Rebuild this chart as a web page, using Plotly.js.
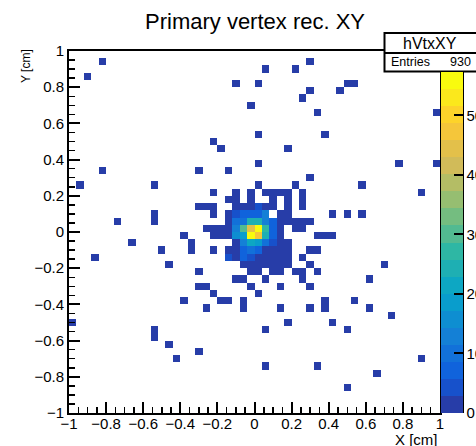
<!DOCTYPE html>
<html>
<head>
<meta charset="utf-8">
<script src="https://cdn.plot.ly/plotly-3.0.1.min.js"></script>
<style>
  html, body { margin: 0; padding: 0; background: #fff; overflow: hidden; }
  #chart { width: 476px; height: 446px; }
</style>
</head>
<body>
<div id="chart"></div>
<script>
// ---- histogram data: hVtxXY, 50 x 50 bins over [-1, 1] cm in X and Y ----
// Each row is one Y bin (bin centre in cm); rowX holds the X bin centres of
// the filled cells in that row and rowN their contents.
const rowY = [
  0.94, 0.90, 0.86, 0.82, 0.78, 0.74, 0.70, 0.66, 0.54, 0.50, 0.46, 0.38,
  0.34, 0.30, 0.26, 0.22, 0.18, 0.14, 0.10, 0.06, 0.02, -0.02, -0.06, -0.10,
  -0.14, -0.18, -0.22, -0.26, -0.30, -0.34, -0.38, -0.42, -0.46, -0.50,
  -0.54, -0.58, -0.62, -0.66, -0.70, -0.74, -0.78, -0.86
];
const rowX = [
  [-0.82, 0.30],
  [0.06, 0.22],
  [-0.90],
  [-0.10, 0.02, 0.50, 0.54],
  [0.30, 0.46],
  [0.26],
  [-0.02],
  [0.34, 0.98],
  [0.02, 0.38],
  [-0.22],
  [-0.18, 0.18],
  [0.02, 0.78, 0.98],
  [-0.82, -0.30, -0.14],
  [0.30],
  [-0.94, -0.54, 0.02, 0.22, 0.58],
  [-0.22, -0.10, -0.02, 0.06, 0.10, 0.14, 0.18, 0.26, 0.90],
  [-0.14, -0.10, -0.02, 0.10, 0.18, 0.26],
  [-0.30, -0.26, -0.22, -0.10, -0.06, -0.02, 0.02, 0.06, 0.10, 0.18, 0.26],
  [-0.54, -0.22, -0.14, -0.10, -0.06, -0.02, 0.02, 0.06, 0.14, 0.18, 0.42, 0.50, 0.58],
  [-0.74, -0.54, -0.14, -0.10, -0.06, -0.02, 0.02, 0.06, 0.10, 0.14, 0.18, 0.22, 0.26, 0.30],
  [-0.26, -0.22, -0.18, -0.14, -0.10, -0.06, -0.02, 0.02, 0.06, 0.10, 0.14, 0.22, 0.26],
  [-0.38, -0.22, -0.18, -0.14, -0.10, -0.06, -0.02, 0.02, 0.06, 0.10, 0.14, 0.34, 0.38, 0.42],
  [-0.66, -0.34, -0.10, -0.06, -0.02, 0.02, 0.06, 0.10, 0.14, 0.18],
  [-0.50, -0.34, -0.22, -0.14, -0.10, -0.06, -0.02, 0.02, 0.06, 0.10, 0.14, 0.18, 0.30, 0.34],
  [-0.86, -0.14, -0.10, -0.06, -0.02, 0.02, 0.06, 0.10, 0.14, 0.18, 0.26],
  [-0.46, -0.06, -0.02, 0.02, 0.06, 0.10, 0.14, 0.18, 0.30, 0.70],
  [-0.30, -0.02, 0.02, 0.10, 0.14, 0.22, 0.26, 0.34],
  [-0.10, -0.06, 0.06, 0.26, 0.62],
  [-0.30, -0.26, -0.02, 0.14, 0.30],
  [-0.22, 0.02],
  [-0.38, -0.18, -0.14, -0.06, 0.38, 0.54],
  [-0.26, -0.06, 0.14, 0.30, 0.38, 0.62],
  [0.74],
  [-0.98, 0.18, 0.42],
  [-0.54, 0.06, 0.50],
  [-0.54],
  [-0.46],
  [-0.30],
  [-0.42, 0.90],
  [0.06, 0.34],
  [0.66],
  [0.50]
];
const rowN = [
  [1, 1],
  [1, 1],
  [1],
  [1, 1, 1, 1],
  [1, 1],
  [1],
  [1],
  [1, 1],
  [1, 1],
  [1],
  [1, 1],
  [1, 1, 1],
  [1, 1, 1],
  [1],
  [1, 1, 1, 1, 1],
  [1, 1, 1, 1, 1, 1, 1, 1, 1],
  [1, 1, 1, 1, 1, 1],
  [1, 1, 1, 1, 2, 2, 4, 2, 1, 1, 1],
  [1, 1, 2, 4, 7, 8, 7, 12, 2, 1, 1, 1, 1],
  [1, 1, 2, 10, 9, 24, 24, 13, 6, 2, 2, 1, 1, 1],
  [1, 2, 2, 2, 12, 30, 44, 57, 27, 6, 2, 1, 1],
  [1, 1, 2, 2, 15, 20, 56, 47, 24, 8, 2, 1, 1, 1],
  [1, 1, 2, 13, 22, 18, 9, 3, 2, 1],
  [1, 1, 1, 2, 2, 6, 10, 6, 2, 2, 1, 1, 1, 1],
  [1, 5, 2, 6, 4, 2, 2, 1, 1, 1, 1],
  [1, 1, 2, 2, 2, 1, 1, 1, 1, 1],
  [1, 1, 1, 1, 1, 1, 1, 1],
  [1, 1, 1, 1, 1],
  [1, 1, 1, 1, 1],
  [1, 1],
  [1, 1, 1, 1, 1, 1],
  [1, 1, 1, 1, 1, 1],
  [1],
  [1, 1, 1],
  [1, 1, 1],
  [1],
  [1],
  [1],
  [1, 1],
  [1, 1],
  [1],
  [1]
];
const entries = 930;
const zMax = 57.3;

// axis tick labels
const axisTickVals = [-1, -0.8, -0.6, -0.4, -0.2, 0, 0.2, 0.4, 0.6, 0.8, 1];
const axisTickText = ['\u22121', '\u22120.8', '\u22120.6', '\u22120.4', '\u22120.2', '0',
                      '0.2', '0.4', '0.6', '0.8', '1'];
const zTickVals = [0, 10, 20, 30, 40, 50];

// ---- binning ----
const nBins = 50, lo = -1, binW = 0.04;
const centres = Array.from({ length: nBins }, (_, k) => +(lo + binW * (k + 0.5)).toFixed(2));
const z = Array.from({ length: nBins }, () => Array(nBins).fill(null));
rowY.forEach((y, r) => {
  const iy = Math.round((y - lo) / binW - 0.5);
  rowX[r].forEach((x, c) => {
    const ix = Math.round((x - lo) / binW - 0.5);
    z[iy][ix] = (z[iy][ix] || 0) + rowN[r][c];
  });
});

// ---- "bird" palette, 20 contour levels ----
const stops = [0, 0.125, 0.25, 0.375, 0.5, 0.625, 0.75, 0.875, 1];
const pr = [0.2082, 0.0592, 0.0780, 0.0232, 0.1802, 0.5301, 0.8186, 0.9956, 0.9764];
const pg = [0.1664, 0.3599, 0.5041, 0.6419, 0.7178, 0.7492, 0.7328, 0.7862, 0.9832];
const pb = [0.5293, 0.8684, 0.8385, 0.7914, 0.6425, 0.4662, 0.3499, 0.1968, 0.0539];
function bird(f) {
  let s = 0;
  while (s < stops.length - 2 && f > stops[s + 1]) s++;
  const t = (f - stops[s]) / (stops[s + 1] - stops[s]);
  const c = arr => Math.round(255 * (arr[s] + (arr[s + 1] - arr[s]) * t));
  return `rgb(${c(pr)},${c(pg)},${c(pb)})`;
}
const nLevels = 20;
const colorscale = [];
for (let k = 0; k < nLevels; k++) {
  const idx = Math.floor((k + 0.99) * 255 / nLevels);
  const col = bird(Math.min(idx / 254, 1));
  colorscale.push([k / nLevels, col], [(k + 1) / nLevels, col]);
}

// ---- frame geometry (pixels) ----
const W = 476, H = 446;
const fL = 69, fR = 440, fT = 51, fB = 413;
const px = v => (v - fL) / (fR - fL);
const py = v => (fB - v) / (fB - fT);
const FONT = 'Liberation Sans, Arial, Helvetica, sans-serif';

const trace = {
  type: 'heatmap',
  x: centres,
  y: centres,
  z: z,
  zmin: 0,
  zmax: zMax,
  colorscale: colorscale,
  hoverinfo: 'skip',
  colorbar: {
    thicknessmode: 'pixels', thickness: 22,
    lenmode: 'fraction', len: py(72),
    x: px(441), xanchor: 'left', xpad: 0,
    y: 0, yanchor: 'bottom', ypad: 0,
    outlinewidth: 0,
    tickmode: 'array', tickvals: zTickVals,
    ticks: 'inside', ticklen: 9, tickwidth: 2, tickcolor: '#000',
    tickfont: { family: FONT, size: 15, color: '#000' }
  }
};

const axisCommon = {
  range: [-1, 1],
  tickmode: 'array',
  tickvals: axisTickVals,
  ticktext: axisTickText,
  ticks: 'inside', ticklen: 11, tickwidth: 2, tickcolor: '#000',
  minor: { dtick: 0.05, tick0: -1, ticks: 'inside', ticklen: 6, tickwidth: 1.5, tickcolor: '#000', showgrid: false },
  showline: true, linecolor: '#000', linewidth: 2, mirror: true,
  showgrid: false, zeroline: false,
  tickfont: { family: FONT, size: 15, color: '#000' },
  fixedrange: true
};

const layout = {
  width: W, height: H,
  margin: { l: fL, r: W - fR, t: fT, b: H - fB, autoexpand: false },
  paper_bgcolor: '#fff', plot_bgcolor: '#fff',
  xaxis: Object.assign({}, axisCommon, { ticklabelstandoff: -4 }),
  yaxis: Object.assign({}, axisCommon),
  showlegend: false,
  shapes: [
    // right-hand edge of the palette
    { type: 'line', xref: 'paper', yref: 'paper', x0: px(463), x1: px(463), y0: 0, y1: py(72),
      line: { color: '#000', width: 2 } },
    // statistics box
    { type: 'rect', xref: 'paper', yref: 'paper', layer: 'above',
      x0: px(384.5), x1: px(482), y0: py(71.5), y1: py(33),
      fillcolor: '#fff', line: { color: '#000', width: 2 } },
    { type: 'line', xref: 'paper', yref: 'paper', layer: 'above',
      x0: px(384.5), x1: px(482), y0: py(53), y1: py(53),
      line: { color: '#000', width: 2 } }
  ],
  annotations: [
    { text: 'Primary vertex rec. XY', xref: 'paper', yref: 'paper',
      x: px(255), y: py(21), xanchor: 'center', yanchor: 'middle', showarrow: false,
      font: { family: FONT, size: 22, color: '#000' } },
    { text: 'X [cm]', xref: 'paper', yref: 'paper',
      x: 1, y: py(439), xanchor: 'right', yanchor: 'middle', showarrow: false,
      font: { family: FONT, size: 15, color: '#000' } },
    { text: 'Y [cm]', xref: 'paper', yref: 'paper', textangle: -90,
      x: px(26), y: py(66), xanchor: 'center', yanchor: 'middle', showarrow: false,
      font: { family: FONT, size: 12, color: '#000' } },
    { text: 'hVtxXY', xref: 'paper', yref: 'paper',
      x: px(430), y: py(43), xanchor: 'center', yanchor: 'middle', showarrow: false,
      font: { family: FONT, size: 16, color: '#000' } },
    { text: 'Entries', xref: 'paper', yref: 'paper',
      x: px(389), y: py(62.5), xanchor: 'left', yanchor: 'middle', showarrow: false,
      font: { family: FONT, size: 12.5, color: '#000' } },
    { text: String(entries), xref: 'paper', yref: 'paper',
      x: px(473), y: py(62.5), xanchor: 'right', yanchor: 'middle', showarrow: false,
      font: { family: FONT, size: 12.5, color: '#000' } }
  ]
};

Plotly.newPlot('chart', [trace], layout, { staticPlot: true, displayModeBar: false });
</script>
</body>
</html>
